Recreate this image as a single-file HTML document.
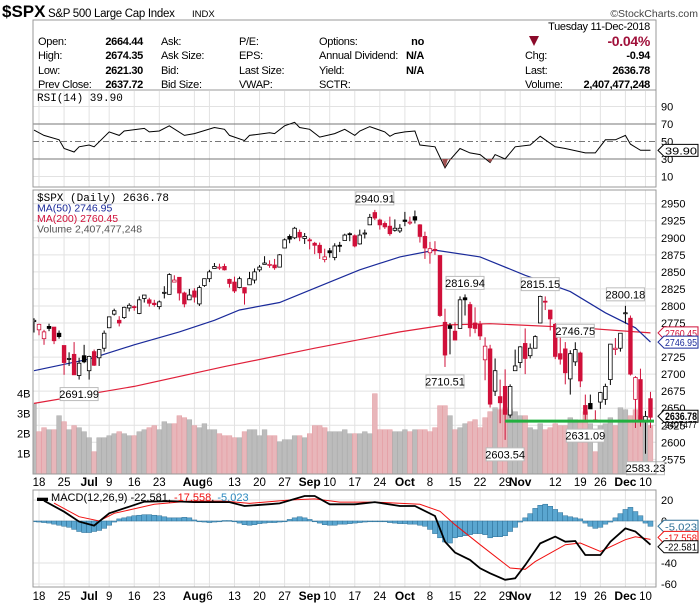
<!DOCTYPE html>
<html><head><meta charset="utf-8"><style>
body{margin:0;background:#fff;}
svg{display:block;font-family:"Liberation Sans Narrow","Liberation Sans",sans-serif;}
</style></head><body>
<svg id="c" width="700" height="603" viewBox="0 0 700 603" xmlns="http://www.w3.org/2000/svg">
<g>
<text x="2" y="17" font-size="17" font-weight="bold" font-family="Liberation Sans">$SPX</text>
<text x="48" y="17" font-size="11.5" letter-spacing="-0.3">S&amp;P 500 Large Cap Index</text>
<text x="192" y="17" font-size="9.5">INDX</text>
<text x="698" y="17" font-size="10.5" text-anchor="end" fill="#444">©StockCharts.com</text>
</g>
<rect x="33" y="20" width="623" height="70" fill="none" stroke="#999"/>
<g font-size="11" letter-spacing="-0.3">
<text x="650" y="30" text-anchor="end">Tuesday  11-Dec-2018</text>
<text x="38" y="45">Open:</text><text x="143" y="45" text-anchor="end" font-weight="bold">2664.44</text>
<text x="38" y="59">High:</text><text x="143" y="59" text-anchor="end" font-weight="bold">2674.35</text>
<text x="38" y="74">Low:</text><text x="143" y="74" text-anchor="end" font-weight="bold">2621.30</text>
<text x="38" y="88">Prev Close:</text><text x="143" y="88" text-anchor="end" font-weight="bold">2637.72</text>
<text x="161" y="45">Ask:</text><text x="161" y="59">Ask Size:</text><text x="161" y="74">Bid:</text><text x="161" y="88">Bid Size:</text>
<text x="239" y="45">P/E:</text><text x="239" y="59">EPS:</text><text x="239" y="74">Last Size:</text><text x="239" y="88">VWAP:</text>
<text x="319" y="45">Options:</text><text x="319" y="59" textLength="79" lengthAdjust="spacingAndGlyphs">Annual Dividend:</text><text x="319" y="74">Yield:</text><text x="319" y="88">SCTR:</text>
<text x="424" y="45" text-anchor="end" font-weight="bold">no</text>
<text x="424" y="59" text-anchor="end" font-weight="bold">N/A</text>
<text x="424" y="74" text-anchor="end" font-weight="bold">N/A</text>
<polygon points="529,36 539,36 534,46" fill="#8b0a2a"/>
<text x="650" y="46" text-anchor="end" font-weight="bold" font-size="14" fill="#a0103a">-0.04%</text>
<text x="525" y="59">Chg:</text><text x="650" y="59" text-anchor="end" font-weight="bold">-0.94</text>
<text x="525" y="74">Last:</text><text x="650" y="74" text-anchor="end" font-weight="bold">2636.78</text>
<text x="525" y="88">Volume:</text><text x="650" y="88" text-anchor="end" font-weight="bold">2,407,477,248</text>
</g>
<g id="rsi"></g>
<g id="main"></g>
<g id="macd"></g>
</svg>
<script>
const opens=[2777,2765,2752,2770,2769,2760,2742,2722,2729,2698,2727,2705,2733,2724,2738,2768,2788,2779,2783,2797,2799,2789,2811,2809,2804,2799,2820,2817,2835,2842,2819,2809,2822,2803,2830,2840,2855,2856,2858,2839,2835,2827,2827,2831,2838,2853,2861,2860,2860,2857,2885,2902,2900,2908,2899,2897,2892,2889,2868,2881,2871,2889,2896,2906,2903,2891,2906,2919,2937,2926,2921,2917,2911,2910,2926,2923,2931,2919,2902,2878,2883,2874,2776,2771,2763,2767,2812,2802,2775,2773,2721,2737,2675,2667,2682,2640,2705,2717,2745,2727,2738,2775,2807,2794,2773,2730,2737,2693,2718,2731,2654,2657,2633,2659,2663,2692,2736,2738,2790,2782,2663,2692,2630,2664];
const highs=[2782,2774,2765,2774,2769,2764,2742,2732,2747,2724,2743,2727,2736,2737,2764,2784,2796,2785,2799,2804,2801,2814,2816,2812,2809,2808,2829,2848,2845,2842,2821,2825,2826,2830,2840,2853,2863,2862,2862,2840,2843,2843,2827,2850,2855,2860,2873,2867,2869,2876,2899,2905,2916,2912,2907,2900,2894,2893,2884,2885,2892,2894,2906,2908,2905,2912,2912,2935,2940.91,2928,2924,2931,2927,2920,2938,2931,2940,2920,2909,2894,2895,2874,2796,2775,2776,2814,2816.94,2806,2798,2778,2754,2743,2723,2692,2707,2685,2736,2741,2767,2745,2757,2815.15,2814,2794,2775,2755,2747,2735,2746.75,2733,2670,2670,2647,2674,2686,2744,2753,2760,2800.18,2786,2697,2708,2646,2674];
const lows=[2761,2757,2743,2763,2744,2752,2699,2712,2699,2691.99,2716,2692,2712,2712,2733,2768,2786,2770,2781,2792,2793,2788,2805,2799,2799,2795,2811,2817,2835,2808,2798,2809,2805,2800,2828,2835,2855,2853,2852,2827,2819,2826,2802,2831,2833,2850,2861,2856,2853,2857,2885,2892,2898,2895,2891,2883,2876,2869,2864,2871,2867,2879,2896,2895,2886,2890,2899,2919,2926,2912,2913,2903,2909,2907,2917,2919,2921,2893,2869,2862,2875,2784,2710.51,2729,2750,2767,2786,2755,2760,2750,2691,2651,2668,2628,2603.54,2636,2705,2709,2700,2723,2738,2775,2794,2764,2722,2714,2685,2670,2712,2681,2631.09,2649,2631,2649,2655,2684,2728,2733,2774,2698,2621,2623,2583.23,2621];
const closes=[2779,2773,2762,2767,2749,2755,2717,2723,2699,2716,2718,2726,2713,2736,2760,2784,2793,2775,2798,2801,2798,2809,2816,2804,2802,2806,2820,2846,2838,2819,2803,2816,2813,2827,2840,2850,2858,2857,2853,2833,2822,2840,2819,2840,2850,2857,2863,2861,2856,2875,2897,2898,2914,2901,2902,2896,2889,2878,2872,2878,2888,2888,2904,2905,2888,2904,2907,2930,2929,2919,2916,2906,2914,2914,2924,2923,2926,2902,2885,2884,2881,2786,2728,2767,2750,2809,2809,2768,2767,2756,2741,2656,2705,2658,2641,2682,2712,2740,2723,2738,2755,2814,2806,2781,2726,2722,2702,2730,2736,2690,2641,2649,2633,2673,2682,2744,2738,2760,2790,2700,2695,2633,2638,2636.78];
const volumes=[3.5,2.1,2.3,2.2,2.2,2.9,2.6,2.2,2.4,2.3,2.1,1.8,1.1,1.8,1.8,1.9,2.0,2.1,2.0,1.9,1.9,2.1,2.2,2.3,2.4,2.2,2.6,2.5,2.5,2.9,2.8,2.7,2.4,2.3,2.5,2.2,2.2,2.0,1.9,1.9,1.8,1.8,2.1,2.2,2.2,1.9,2.2,1.9,1.9,1.6,1.7,1.7,1.9,1.9,1.8,2.0,2.4,2.4,2.3,2.1,2.1,2.1,2.2,2.0,2.0,2.0,2.1,2.0,4.0,2.2,2.2,2.2,2.1,2.1,2.2,2.1,2.2,2.2,2.2,2.1,2.3,3.4,3.4,2.9,2.2,2.3,2.5,2.6,2.7,2.3,2.8,3.1,3.3,3.2,3.3,3.2,3.1,2.9,2.9,2.3,2.2,2.5,2.2,2.3,2.5,2.4,2.4,2.8,2.7,2.6,3.1,2.5,1.1,2.4,2.5,2.8,2.4,3.3,3.2,2.9,3.2,2.9,2.7,2.4];
const ma50Idx=[0,11,20,29,36,41,49,56,65,73,80,89,98,107,114,120,123];
const ma50Val=[2705,2722,2743,2762,2779,2794,2805,2826,2853,2872,2882,2872,2845,2821,2790,2768,2746.95];
const ma200Idx=[0,20,38,56,73,82,91,109,123];
const ma200Val=[2657,2682,2711,2738,2762,2772,2774,2768,2760.45];
const rsiIdx=[0,2,5,6,8,9,11,12,15,17,18,22,23,25,27,30,32,36,38,39,42,43,47,48,50,52,53,55,57,60,62,64,65,67,70,71,72,74,76,77,80,82,83,85,87,89,91,92,94,96,99,101,104,106,110,112,114,116,118,119,121,123];
const rsiVal=[63,57,52,42,38,44,46,44,61,57,62,65,61,62,68,57,59,66,64,57,51,57,60,59,68,72,66,64,55,59,64,57,62,67,61,56,59,61,62,46,44,20,29,42,37,35,26,35,30,44,46,56,44,42,37,37,52,52,57,47,40,39.9];
const macdIdx=[2,6,9,12,15,19,22,27,32,39,42,47,49,54,56,59,64,68,73,76,80,82,84,87,89,91,94,96,98,101,104,106,108,110,113,115,118,120,123];
const macdVal=[19.3,8.9,-0.6,-4.4,7.3,13.6,18.4,19,18,18,14.3,16,16.8,23.8,23.8,15.9,15.9,18,14.3,14.3,4.8,-19.7,-30,-37,-45,-49.8,-56,-54.6,-42,-21.3,-14.9,-19.7,-19,-32.4,-32.4,-19.7,-7,-10,-22.581];
const sigIdx=[4,9,13,16,24,31,38,43,51,56,61,68,77,81,84,89,95,98,100,106,109,113,118,120,123];
const sigVal=[17,4.1,0,7.3,15.9,19,19,16.8,20,21,18,18,15.9,9.2,-3.5,-22.6,-44.8,-46,-38.7,-22.6,-21,-29,-17.8,-15,-17.558];
const histVal=[0,-1,-1.5,-2,-3,-4,-5,-6,-8,-10,-11,-11,-10,-9,-7,-4,-1,2,3,4,5,5.5,6,6,5.5,5,4,3,3,3,3.5,3,1,0,-1,-1.5,-1,0,0.5,0.5,0,-2,-3.5,-4,-3.5,-2.5,-2,-1.5,-1.5,-1,0,1.5,3,4,3,1.5,0,-2,-3.5,-4,-4,-3,-3,-2.5,-2,-1.5,-1,0,0,0,-0.5,-1.5,-2,-2.5,-2.5,-3,-3,-4,-5,-8,-12,-16,-20,-21,-16,-15,-14,-13,-12,-12,-13,-16,-15,-15,-14,-10,-6,-1,3,7,12,15,16,14,11,8,5,4,3,2,-2,-5,-7,-6,-3,-1,3,7,11,13,9,5,-2,-5.023];
const annIdx=[68,9,86,82,101,108,118,94,110,122];
const annPrice=[2940.91,2691.99,2816.94,2710.51,2815.15,2746.75,2800.18,2603.54,2631.09,2583.23];
const annAbove=[1,0,1,0,1,1,1,0,0,0];
const tickIdx=[1,6,11,15,20,25,32,35,40,45,50,55,59,64,69,74,79,84,89,94,97,104,109,113,118,122];
const tickLbl=["18","25","Jul","9","16","23","Aug","6","13","20","27","Sep","10","17","24","Oct","8","15","22","29","Nov","12","19","26","Dec","10"];
const priceTicks=[2575,2600,2625,2650,2675,2700,2725,2750,2775,2800,2825,2850,2875,2900,2925,2950];
const volTicks=[1,2,3,4];
const rsiTicks=[10,30,50,70,90];
const macdTicks=[20,0,-40,-60];
const supportLevel=2631;const supportFrom=94;

const NS="http://www.w3.org/2000/svg";
const L=33,R=656;
const X=i=>34+5.012*i;
const PY=p=>203.7+(2950-p)*0.6817;
const VY=v=>473.7-20*v;
const RY=v=>159-(v-30)*0.875;
const MY=v=>521-1.05*v;
function mk(p,t,a){const e=document.createElementNS(NS,t);for(const k in a)e.setAttribute(k,a[k]);p.appendChild(e);return e;}
function txt(p,x,y,s,a){const e=mk(p,'text',Object.assign({x:x,y:y},a||{}));e.textContent=s;return e;}
function grid(g,top,bot){tickIdx.forEach(i=>{const l=mk(g,'line',{x1:X(i),x2:X(i),y1:top,y2:bot,stroke:'#e2e2e2'});

});}
function xlabels(g,y){tickIdx.forEach((i,k)=>{const s=tickLbl[k];const bold=isNaN(+s);const t=txt(g,X(i),y,s,{'font-size':bold?12:11.5,'font-weight':bold?'bold':'normal','text-anchor':'middle'});

});}
function poly(g,idx,val,fy,col,w,name){const d=idx.map((i,k)=>X(i).toFixed(1)+','+fy(val[k]).toFixed(1)).join(' ');const e=mk(g,'polyline',{points:d,fill:'none',stroke:col,'stroke-width':w});

return e;}
function tag(g,y,s,col,bold){const e=mk(g,'polygon',{points:`${R+2},${y} ${R+8},${y-6} ${R+42},${y-6} ${R+42},${y+6} ${R+8},${y+6}`,fill:'#fff',stroke:col});


txt(g,R+9,y+4,s,{'font-size':bold?11:10.5,fill:bold?'#000':col,'font-weight':bold?'bold':'normal',textLength:32,lengthAdjust:'spacingAndGlyphs'});}

// RSI
const rg=document.getElementById('rsi');
mk(rg,'defs',{}).innerHTML='<clipPath id="rc"><rect x="33" y="91" width="623" height="96"/></clipPath><clipPath id="mc"><rect x="33" y="190" width="623" height="284"/></clipPath><clipPath id="kc"><rect x="33" y="490" width="623" height="97"/></clipPath>';
grid(rg,91,187);
rsiTicks.forEach(v=>{const l=mk(rg,'line',{x1:L,x2:R,y1:RY(v),y2:RY(v),stroke:(v==30||v==70||v==50)?'#777':'#e2e2e2','stroke-dasharray':v==50?'6,3,2,3':'none'});


txt(rg,R+5,RY(v)+4,String(v),{'font-size':11});});
const rl=poly(rg,rsiIdx,rsiVal,RY,'#000',1,'rsi-line');rl.setAttribute('clip-path','url(#rc)');
rsiIdx.forEach((i,k)=>{if(rsiVal[k]<30){const p=mk(rg,'polygon',{points:`${X(i)-3},${RY(30)} ${X(i)},${RY(rsiVal[k])} ${X(i)+3},${RY(30)}`,fill:'#a05050'});

}});
txt(rg,37,101,'RSI(14) 39.90',{'font-size':11,'font-family':'Liberation Mono'});
tag(rg,RY(39.9),'39.90','#000',false);
mk(rg,'rect',{x:L,y:90,width:R-L,height:97,fill:'none',stroke:'#999'});

// MAIN
const mg=document.getElementById('main');
grid(mg,190,474);
priceTicks.forEach(p=>{const l=mk(mg,'line',{x1:L,x2:R,y1:PY(p),y2:PY(p),stroke:'#e2e2e2'});


txt(mg,R+5,PY(p)+4,String(p),{'font-size':11});});
volTicks.forEach(v=>{txt(mg,17,VY(v)+4,v+'B',{'font-size':11});});
const inner=mk(mg,'g',{'clip-path':'url(#mc)'});
volumes.forEach((v,i)=>{const down=i>0&&closes[i]<closes[i-1];const b=mk(inner,'rect',{x:X(i)-2.4,y:VY(v),width:4.8,height:473.7-VY(v),fill:down?'#e8b6ba':'#bcbcbc',stroke:down?'#e49aa0':'#aaa','stroke-width':0.5});

});
poly(inner,ma200Idx,ma200Val,PY,'#e0203a',1.2,'ma200-line');
poly(inner,ma50Idx,ma50Val,PY,'#1a2a9a',1.2,'ma50-line');
closes.forEach((c,i)=>{const o=opens[i];const col=(i>0&&c<closes[i-1])?'#d0103a':'#000';const x=X(i);
const w=mk(inner,'line',{x1:x,x2:x,y1:PY(highs[i]),y2:PY(lows[i]),stroke:col,'stroke-width':1});


const t=PY(Math.max(o,c)),bt=PY(Math.min(o,c));
const b=mk(inner,'rect',{x:x-1.8,y:t,width:3.6,height:Math.max(1,bt-t),fill:c<o?col:'#fff',stroke:col,'stroke-width':0.8});

});
const sl=mk(inner,'line',{x1:X(supportFrom),x2:R-2,y1:PY(supportLevel),y2:PY(supportLevel),stroke:'#22b040','stroke-width':3});


annIdx.forEach((i,k)=>{const y=PY(annPrice[k]);const by=annAbove[k]?y-18:y+8;const s=annPrice[k].toFixed(2);
const g=mk(mg,'g',{});


mk(g,'rect',{x:X(i)-19,y:by,width:38,height:13,fill:'#fff',stroke:'#bbb'});
txt(g,X(i),by+10.5,s,{'font-size':11,'text-anchor':'middle'});});
txt(mg,37,201,'$SPX (Daily) 2636.78',{'font-size':11,'font-family':'Liberation Mono'});
txt(mg,37,211.5,'MA(50) 2746.95',{'font-size':10.5,fill:'#1a2a9a'});
txt(mg,37,222,'MA(200) 2760.45',{'font-size':10.5,fill:'#d0103a'});
txt(mg,37,232.5,'Volume 2,407,477,248',{'font-size':10.5,fill:'#555'});
tag(mg,PY(2760.45),'2760.45','#d0103a',false);
tag(mg,PY(2746.95),'2746.95','#1a2a9a',false);
tag(mg,PY(2636.78)-1,'2636.78','#000',true);
txt(mg,R+9,428,'2407477',{'font-size':10.5,textLength:32,lengthAdjust:'spacingAndGlyphs'});
mk(mg,'rect',{x:L,y:190,width:R-L,height:284,fill:'none',stroke:'#999'});
xlabels(mg,486);

// MACD
const kg=document.getElementById('macd');
grid(kg,490,587);
macdTicks.forEach(v=>{const l=mk(kg,'line',{x1:L,x2:R,y1:MY(v),y2:MY(v),stroke:'#e2e2e2'});


txt(kg,R+5,MY(v)+4,String(v),{'font-size':11});});
const ki=mk(kg,'g',{'clip-path':'url(#kc)'});
histVal.forEach((v,i)=>{const y0=MY(0),y1=MY(v);const b=mk(ki,'rect',{x:X(i)-2.5,y:Math.min(y0,y1),width:5,height:Math.max(0.8,Math.abs(y1-y0)),fill:'#5aa6d0',stroke:'#2d6f96','stroke-width':0.5});

});
poly(ki,sigIdx,sigVal,MY,'#f01010',1,'macd-signal-line');
poly(ki,macdIdx,macdVal,MY,'#000',1.8,'macd-line');
const lg=mk(kg,'text',{x:37,y:501,'font-size':11});
lg.innerHTML='<tspan font-weight="bold">▬</tspan> MACD(12,26,9) -22.581, <tspan fill="#f01010">-17.558</tspan>, <tspan fill="#2d8ac0">-5.023</tspan>';
tag(kg,MY(-5.023),'-5.023','#2d6f96',false);
tag(kg,MY(-17.558)-2,'-17.558','#f01010',false);
tag(kg,MY(-22.581)+2,'-22.581','#000',false);
mk(kg,'rect',{x:L,y:490,width:R-L,height:97,fill:'none',stroke:'#999'});
xlabels(kg,600);
</script>
</body></html>
